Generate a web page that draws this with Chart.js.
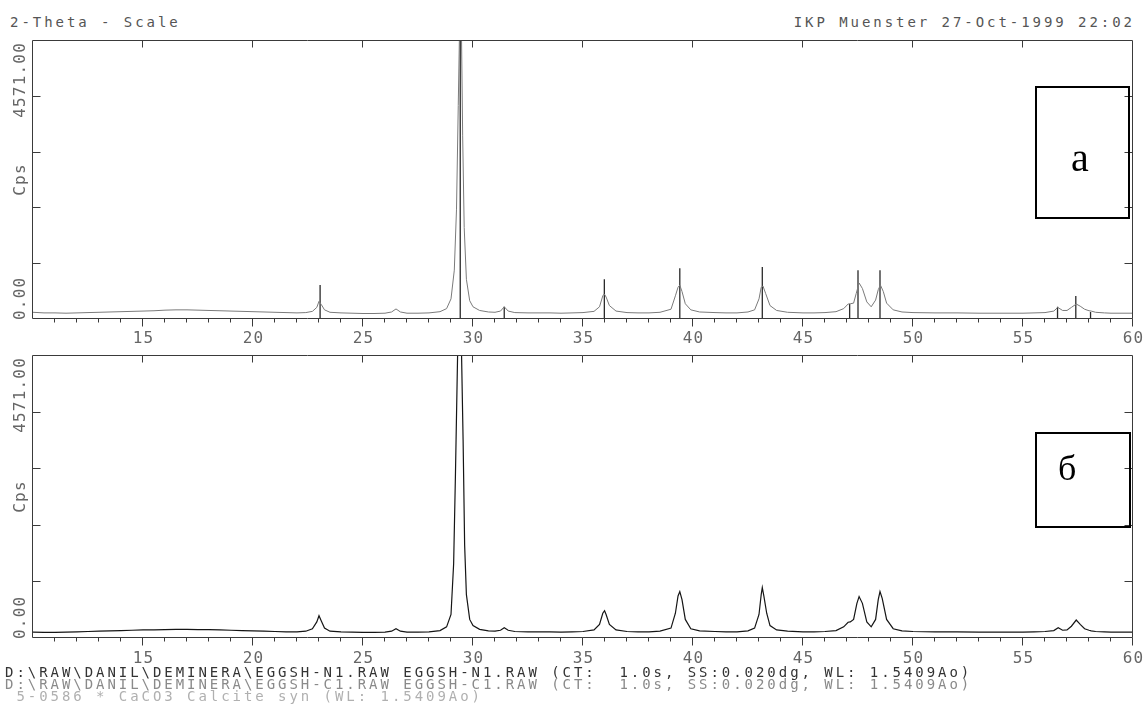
<!DOCTYPE html>
<html><head><meta charset="utf-8">
<script src="https://cdn.jsdelivr.net/npm/chart.js@4"></script>
<style>
html,body{margin:0;padding:0;background:#fff;}
body{width:1143px;height:713px;position:relative;overflow:hidden;font-family:"DejaVu Sans Mono",monospace;}
.t{position:absolute;white-space:pre;font-size:14px;line-height:14px;letter-spacing:2.95px;font-family:"DejaVu Sans Mono",monospace;}
canvas{position:absolute;left:0;}
.box{position:absolute;border:2px solid #000;box-sizing:border-box;}
.lt{position:absolute;font-family:"Liberation Serif","Times New Roman",serif;color:#000;line-height:1;}
</style></head>
<body>
<div class="t" style="left:10px;top:15px;color:#555">2-Theta - Scale</div>
<div class="t" style="right:8px;top:15px;color:#555">IKP Muenster 27-Oct-1999 22:02</div>
<canvas id="cA" width="1143" height="360" style="top:0"></canvas>
<canvas id="cB" width="1143" height="330" style="top:345px"></canvas>
<div class="box" style="left:1035px;top:86px;width:95px;height:133px"></div>
<div class="lt" style="left:1071px;top:138px;font-size:40px">a</div>
<div class="box" style="left:1035px;top:432px;width:96px;height:96px"></div>
<div class="lt" style="left:1058px;top:450px;font-size:36px">б</div>
<div class="t" style="left:5px;top:665px;color:#333">D:\RAW\DANIL\DEMINERA\EGGSH-N1.RAW EGGSH-N1.RAW (CT:  1.0s, SS:0.020dg, WL: 1.5409Ao)</div>
<div class="t" style="left:5px;top:677px;color:#8a8a8a">D:\RAW\DANIL\DEMINERA\EGGSH-C1.RAW EGGSH-C1.RAW (CT:  1.0s, SS:0.020dg, WL: 1.5409Ao)</div>
<div class="t" style="left:5px;top:689px;color:#b0b0b0"> 5-0586 * CaCO3 Calcite syn (WL: 1.5409Ao)</div>
<script>
const X_MIN = 10, X_MAX = 60;
const X_LABELS = [15, 20, 25, 30, 35, 40, 45, 50, 55, 60];
const Y_MAX = 4571;
const Y_LABEL_TOP = '4571.00';
const Y_LABEL_BOTTOM = '0.00';
const Y_TITLE = 'Cps';

// Panel a: EGGSH-N1 (grey trace)
const A_THETA = [10,10.5,11,11.5,12,12.5,13,13.5,14,14.5,15,15.5,16,16.5,17,17.5,18,18.5,19,19.5,20,20.5,21,21.5,22,22.4,22.7,22.9,23.0,23.1,23.25,23.5,24,24.5,25,25.5,26,26.3,26.5,26.7,27,27.5,28,28.5,28.8,29.0,29.15,29.25,29.33,29.38,29.48,29.53,29.6,29.7,29.85,30.0,30.3,30.7,31.0,31.25,31.42,31.6,31.9,32.5,33,33.5,34,34.5,35,35.5,35.75,35.9,35.97,36.05,36.2,36.5,37,37.5,38,38.5,39.0,39.2,39.32,39.4,39.5,39.65,39.9,40.3,41,41.5,42,42.5,42.8,43.0,43.1,43.18,43.3,43.5,43.8,44.3,45,45.5,46,46.5,46.85,47.05,47.15,47.3,47.42,47.55,47.7,47.9,48.1,48.3,48.42,48.52,48.65,48.8,49.1,49.5,50,51,52,53,54,55,55.5,56,56.4,56.58,56.8,57.0,57.2,57.42,57.6,57.8,58.0,58.1,58.3,58.7,59,59.5,60];
const A_CPS = [110,100,100,95,100,105,110,115,120,125,130,135,145,150,150,145,140,135,130,125,120,115,110,105,100,105,125,190,290,240,150,110,100,95,90,90,95,115,165,115,95,95,100,120,170,330,800,1800,3500,4571,4571,3000,1500,650,300,200,140,115,110,130,200,130,105,100,100,100,95,100,105,125,200,380,410,360,220,130,105,100,100,110,160,380,520,555,450,250,150,115,105,100,100,115,150,330,520,540,420,220,140,110,100,100,105,120,170,245,250,260,420,590,500,280,200,310,480,555,450,260,150,115,105,100,100,95,95,95,100,105,130,190,140,140,190,245,210,160,135,130,110,100,95,95,95];

// Reference pattern 5-0586 CaCO3 Calcite (sticks in panel a)
const STICK_THETA = [23.05, 29.42, 31.42, 35.97, 39.40, 43.15, 47.12, 47.50, 48.50, 56.57, 57.40, 58.07];
const STICK_CPS   = [555, 4571, 200, 650, 830, 850, 245, 800, 800, 200, 375, 115];

// Panel б: EGGSH-C1 (black trace)
const B_THETA = [10,10.5,11,11.5,12,12.5,13,13.5,14,14.5,15,15.5,16,16.5,17,17.5,18,18.5,19,19.5,20,20.5,21,21.5,22,22.4,22.7,22.9,23.0,23.1,23.25,23.5,24,24.5,25,25.5,26,26.3,26.5,26.7,27,27.5,28,28.5,28.8,29.0,29.12,29.2,29.3,29.48,29.55,29.62,29.7,29.85,30.0,30.3,30.7,31.0,31.25,31.42,31.6,31.9,32.5,33,33.5,34,34.5,35,35.5,35.75,35.9,35.98,36.05,36.2,36.5,37,37.5,38,38.5,39.0,39.2,39.32,39.4,39.5,39.65,39.9,40.3,41,41.5,42,42.5,42.8,43.0,43.1,43.15,43.22,43.35,43.5,43.8,44.3,45,45.5,46,46.5,46.85,47.05,47.15,47.3,47.45,47.55,47.7,47.9,48.1,48.3,48.42,48.5,48.6,48.8,49.1,49.5,50,51,52,53,54,55,55.5,56,56.4,56.6,56.8,57.0,57.2,57.42,57.6,57.8,58.0,58.1,58.3,58.7,59,59.5,60];
const B_CPS = [95,90,90,95,100,105,110,115,120,125,130,130,135,140,140,135,135,130,125,120,115,110,105,100,100,110,150,260,360,280,160,110,100,95,90,90,95,110,150,110,95,95,100,120,180,380,1200,2600,4571,4571,3200,1500,700,300,200,140,115,110,125,165,125,105,100,100,100,95,100,105,130,220,400,440,380,220,130,105,100,100,110,160,400,680,750,620,300,150,115,105,100,100,115,160,380,700,815,680,400,200,130,110,100,100,105,120,180,255,260,300,560,670,560,260,180,300,620,750,640,300,150,115,105,100,100,95,95,95,100,105,120,165,125,130,190,290,220,150,125,115,105,100,95,95,95];

const frame = {
  id: 'frame',
  afterDatasetsDraw(chart, args, opts) {
    const {ctx, chartArea: a, scales: {x, y}} = chart;
    ctx.save();
    ctx.strokeStyle = '#3a3a3a';
    ctx.lineWidth = 1;
    const L = Math.round(a.left) - 0.5, R = Math.round(a.right) - 0.5;
    const T = Math.round(a.top) + 0.5, B = Math.round(a.bottom) - 0.5;
    ctx.beginPath();
    ctx.rect(L, T, R - L, B - T);
    for (let v = X_MIN + 1; v < X_MAX; v++) {
      const px = Math.round(x.getPixelForValue(v)) - 0.5;
      ctx.moveTo(px, B); ctx.lineTo(px, B + 4);
    }
    X_LABELS.forEach(v => {
      const px = Math.round(x.getPixelForValue(v)) - 0.5;
      ctx.moveTo(px, B); ctx.lineTo(px, B + 8);
      if (v < X_MAX) { ctx.moveTo(px, T); ctx.lineTo(px, T + 7); }
    });
    for (let k = 1; k < 5; k++) {
      const py = Math.round(y.getPixelForValue(Y_MAX * k / 5)) + 0.5;
      ctx.moveTo(L, py); ctx.lineTo(L + 8, py);
      ctx.moveTo(R, py); ctx.lineTo(R - 8, py);
    }
    ctx.stroke();
    ctx.fillStyle = '#666';
    ctx.font = '16px "DejaVu Sans Mono"';
    ctx.letterSpacing = '1.2px';
    ctx.textAlign = 'center';
    ctx.textBaseline = 'alphabetic';
    X_LABELS.forEach(v => {
      ctx.fillText(String(v), x.getPixelForValue(v) + 0.6, a.bottom + opts.labelOffset);
    });
    const rot = (txt, py, align) => {
      ctx.save();
      ctx.translate(20.5, py);
      ctx.rotate(-Math.PI / 2);
      ctx.textAlign = align;
      ctx.textBaseline = 'middle';
      ctx.fillText(txt, 0, 0);
      ctx.restore();
    };
    rot(Y_LABEL_TOP, a.top + 2, 'right');
    rot(Y_LABEL_BOTTOM, a.bottom + 1, 'left');
    rot(Y_TITLE, (a.top + a.bottom) / 2, 'center');
    ctx.restore();
  }
};

function pts(xs, ys) { return xs.map((t, i) => ({x: t, y: ys[i]})); }

function makeChart(id, datasets, padTop, xHeight, labelOffset) {
  return new Chart(document.getElementById(id), {
    type: 'line',
    data: {datasets},
    options: {
      responsive: false, animation: false, devicePixelRatio: 1,
      layout: {padding: {top: padTop, right: 10, left: 0, bottom: 0}},
      plugins: {legend: {display: false}, tooltip: {enabled: false}, frame: {labelOffset}},
      elements: {point: {radius: 0}, line: {tension: 0}},
      scales: {
        x: {
          type: 'linear', min: X_MIN, max: X_MAX,
          afterFit: s => { s.height = xHeight; },
          grid: {display: false}, border: {display: false},
          ticks: {display: false}
        },
        y: {
          min: 0, max: Y_MAX,
          afterFit: s => { s.width = 33; },
          ticks: {display: false}, grid: {display: false}, border: {display: false}
        }
      }
    },
    plugins: [frame]
  });
}

makeChart('cA', [
  {data: pts(A_THETA, A_CPS), borderColor: '#7a7a7a', borderWidth: 1},
  {data: STICK_THETA.flatMap((t, i) => [{x: t, y: 0}, {x: t, y: STICK_CPS[i]}, {x: t, y: null}]),
   borderColor: '#2a2a2a', borderWidth: 1.3, spanGaps: false}
], 40, 41, 24);

makeChart('cB', [
  {data: pts(B_THETA, B_CPS), borderColor: '#151515', borderWidth: 1.2}
], 10, 37, 25);
</script>
</body></html>
